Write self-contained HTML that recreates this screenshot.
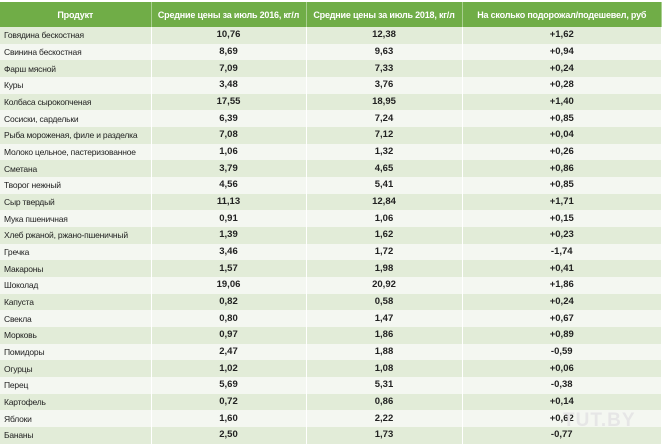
<!DOCTYPE html><html><head><meta charset="utf-8"><style>
body{margin:0;width:662px;height:441px;overflow:hidden;background:#fff;font-family:"Liberation Sans",sans-serif;}
table{position:absolute;left:0;top:2px;width:662px;border-collapse:collapse;table-layout:fixed}
th{background:#70ad47;color:#fff;font-size:9px;font-weight:bold;height:25px;padding:0;border-right:1px solid #a9cf90;white-space:nowrap;overflow:hidden;letter-spacing:-0.2px}
td{height:16.68px;padding:0;font-size:8.5px;color:#222;border-right:1px solid #fff;line-height:16px;white-space:nowrap;overflow:hidden;letter-spacing:-0.2px}
td:first-child{padding-left:4px;text-align:left}
td:not(:first-child){text-align:center;font-weight:bold;font-size:9.5px;letter-spacing:0}
tr:nth-child(even) td{background:#e2ecd8}
tr:nth-child(odd) td{background:#f4f7f1}
.w{position:absolute;left:563px;top:410px;font-size:19px;font-weight:bold;color:#e6e6e6;letter-spacing:1px}
</style></head><body>
<table>
<colgroup><col style="width:151px"><col style="width:155px"><col style="width:156px"><col></colgroup>
<tr><th>Продукт</th><th>Средние цены за июль 2016, кг/л</th><th>Средние цены за июль 2018, кг/л</th><th>На сколько подорожал/подешевел, руб</th></tr>
<tr><td>Говядина бескостная</td><td>10,76</td><td>12,38</td><td>+1,62</td></tr>
<tr><td>Свинина бескостная</td><td>8,69</td><td>9,63</td><td>+0,94</td></tr>
<tr><td>Фарш мясной</td><td>7,09</td><td>7,33</td><td>+0,24</td></tr>
<tr><td>Куры</td><td>3,48</td><td>3,76</td><td>+0,28</td></tr>
<tr><td>Колбаса сырокопченая</td><td>17,55</td><td>18,95</td><td>+1,40</td></tr>
<tr><td>Сосиски, сардельки</td><td>6,39</td><td>7,24</td><td>+0,85</td></tr>
<tr><td>Рыба мороженая, филе и разделка</td><td>7,08</td><td>7,12</td><td>+0,04</td></tr>
<tr><td>Молоко цельное, пастеризованное</td><td>1,06</td><td>1,32</td><td>+0,26</td></tr>
<tr><td>Сметана</td><td>3,79</td><td>4,65</td><td>+0,86</td></tr>
<tr><td>Творог нежный</td><td>4,56</td><td>5,41</td><td>+0,85</td></tr>
<tr><td>Сыр твердый</td><td>11,13</td><td>12,84</td><td>+1,71</td></tr>
<tr><td>Мука пшеничная</td><td>0,91</td><td>1,06</td><td>+0,15</td></tr>
<tr><td>Хлеб ржаной, ржано-пшеничный</td><td>1,39</td><td>1,62</td><td>+0,23</td></tr>
<tr><td>Гречка</td><td>3,46</td><td>1,72</td><td>-1,74</td></tr>
<tr><td>Макароны</td><td>1,57</td><td>1,98</td><td>+0,41</td></tr>
<tr><td>Шоколад</td><td>19,06</td><td>20,92</td><td>+1,86</td></tr>
<tr><td>Капуста</td><td>0,82</td><td>0,58</td><td>+0,24</td></tr>
<tr><td>Свекла</td><td>0,80</td><td>1,47</td><td>+0,67</td></tr>
<tr><td>Морковь</td><td>0,97</td><td>1,86</td><td>+0,89</td></tr>
<tr><td>Помидоры</td><td>2,47</td><td>1,88</td><td>-0,59</td></tr>
<tr><td>Огурцы</td><td>1,02</td><td>1,08</td><td>+0,06</td></tr>
<tr><td>Перец</td><td>5,69</td><td>5,31</td><td>-0,38</td></tr>
<tr><td>Картофель</td><td>0,72</td><td>0,86</td><td>+0,14</td></tr>
<tr><td>Яблоки</td><td>1,60</td><td>2,22</td><td>+0,62</td></tr>
<tr><td>Бананы</td><td>2,50</td><td>1,73</td><td>-0,77</td></tr>
</table>
<div class="w">TUT.BY</div>
</body></html>
